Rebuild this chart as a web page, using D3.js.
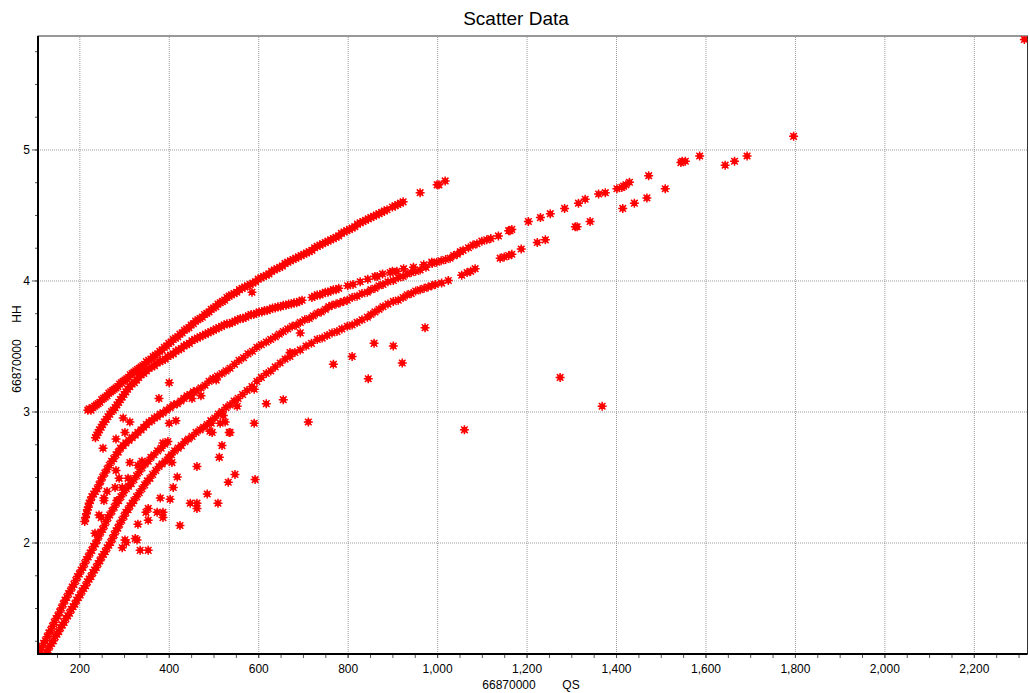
<!DOCTYPE html>
<html>
<head>
<meta charset="utf-8">
<script src="https://cdn.jsdelivr.net/npm/d3@7"></script>
<style>
body { margin: 0; background: #fff; }
svg { display: block; font-family: Arial, "Liberation Sans", sans-serif; }
</style>
</head>
<body>
<div class="chart"></div>
<script>
// values (QS, HH)
const chartTitle = "Scatter Data";
const xLabel = "66870000        QS";
const yLabel = "66870000     HH";
const xDomain = [107.6, 2320];
const yDomain = [1.149, 5.866];
const xTicks = [200, 400, 600, 800, 1000, 1200, 1400, 1600, 1800, 2000, 2200];
const yTicks = [2, 3, 4, 5];

const curveA = [[219,3.01],[222,3.02],[226,3.01],[230,3.03],[234,3.04],[238,3.05],[242,3.06],[246,3.07],[250,3.09],[254,3.10],[258,3.11],[262,3.12],[266,3.14],[270,3.15],[274,3.16],[278,3.17],[282,3.18],[286,3.19],[290,3.21],[294,3.22],[298,3.23],[302,3.24],[306,3.25],[310,3.26],[314,3.28],[318,3.29],[322,3.30],[326,3.31],[330,3.32],[334,3.33],[338,3.34],[342,3.35],[346,3.36],[350,3.38],[355,3.39],[360,3.40],[365,3.42],[370,3.43],[375,3.44],[380,3.46],[385,3.47],[390,3.49],[395,3.50],[400,3.52],[405,3.53],[410,3.55],[415,3.56],[420,3.57],[425,3.59],[430,3.60],[435,3.62],[440,3.63],[445,3.64],[450,3.66],[455,3.67],[460,3.69],[465,3.70],[470,3.71],[475,3.72],[480,3.74],[485,3.75],[490,3.76],[495,3.78],[500,3.79],[505,3.80],[510,3.82],[515,3.83],[520,3.84],[525,3.85],[530,3.87],[535,3.88],[540,3.89],[546,3.90],[552,3.91],[558,3.93],[564,3.94],[570,3.95],[576,3.96],[582,3.97],[588,3.98],[594,3.99],[600,4.01],[606,4.02],[612,4.03],[618,4.04],[624,4.05],[630,4.07],[636,4.08],[642,4.09],[648,4.10],[654,4.11],[660,4.13],[666,4.14],[672,4.15],[678,4.16],[684,4.17],[690,4.18],[696,4.19],[702,4.20],[708,4.21],[714,4.22],[720,4.23],[726,4.25],[732,4.26],[738,4.27],[744,4.28],[750,4.29],[756,4.30],[762,4.31],[768,4.32],[774,4.33],[780,4.34],[786,4.36],[792,4.37],[798,4.38],[804,4.39],[810,4.40],[816,4.41],[822,4.43],[828,4.44],[834,4.45],[840,4.46],[846,4.47],[852,4.48],[858,4.49],[864,4.50],[870,4.51],[876,4.52],[882,4.53],[888,4.54],[900,4.56],[906,4.57],[912,4.58],[918,4.59],[924,4.60],[962,4.67],[1000,4.73],[1004,4.73],[1018,4.76]];

const curveB = [[236,2.80],[239,2.82],[242,2.84],[245,2.86],[249,2.88],[252,2.90],[256,2.92],[260,2.94],[264,2.96],[268,2.98],[272,3.00],[276,3.01],[280,3.03],[284,3.05],[288,3.07],[292,3.09],[296,3.11],[300,3.13],[304,3.15],[308,3.17],[313,3.19],[318,3.21],[323,3.22],[328,3.24],[333,3.26],[338,3.28],[344,3.29],[350,3.31],[356,3.33],[362,3.34],[368,3.35],[374,3.37],[380,3.38],[386,3.39],[392,3.40],[398,3.42],[404,3.43],[410,3.44],[416,3.46],[422,3.47],[428,3.48],[434,3.50],[440,3.51],[446,3.52],[452,3.54],[458,3.55],[464,3.56],[470,3.57],[476,3.58],[482,3.59],[488,3.60],[494,3.61],[500,3.62],[506,3.63],[512,3.64],[518,3.65],[524,3.66],[530,3.67],[536,3.67],[542,3.68],[548,3.69],[554,3.70],[560,3.71],[566,3.71],[572,3.72],[578,3.73],[584,3.74],[590,3.74],[596,3.75],[602,3.76],[608,3.76],[614,3.77],[620,3.77],[626,3.78],[632,3.79],[638,3.79],[644,3.80],[650,3.80],[656,3.81],[662,3.81],[668,3.82],[674,3.82],[680,3.83],[686,3.83],[692,3.84],[698,3.85],[720,3.87],[726,3.88],[732,3.89],[738,3.89],[744,3.90],[750,3.91],[756,3.91],[762,3.92],[768,3.93],[774,3.93],[780,3.94],[800,3.96],[812,3.97],[828,3.99],[845,4.01],[861,4.03],[866,4.03],[878,4.05],[895,4.06],[900,4.07],[910,4.07],[925,4.09],[947,4.10],[970,4.12],[988,4.14]];

const curveC = [[212,2.16],[214,2.19],[216,2.22],[218,2.25],[220,2.27],[222,2.30],[225,2.32],[228,2.35],[232,2.37],[236,2.39],[240,2.41],[244,2.44],[248,2.47],[252,2.50],[257,2.53],[262,2.56],[267,2.59],[272,2.62],[277,2.64],[282,2.67],[287,2.69],[292,2.72],[298,2.74],[304,2.76],[311,2.78],[318,2.80],[325,2.82],[331,2.84],[338,2.86],[344,2.88],[350,2.90],[356,2.92],[362,2.93],[368,2.95],[374,2.96],[381,2.98],[387,2.99],[395,3.01],[403,3.03],[411,3.05],[419,3.06],[427,3.08],[434,3.10],[441,3.12],[448,3.13],[455,3.15],[463,3.16],[472,3.18],[481,3.20],[490,3.23],[499,3.25],[509,3.27],[519,3.29],[528,3.31],[537,3.33],[547,3.36],[557,3.39],[567,3.41],[577,3.44],[587,3.46],[597,3.49],[607,3.51],[618,3.53],[628,3.55],[638,3.57],[647,3.59],[656,3.61],[666,3.63],[676,3.65],[685,3.66],[694,3.68],[704,3.70],[714,3.71],[723,3.73],[732,3.75],[741,3.76],[750,3.78],[758,3.80],[765,3.81],[774,3.82],[783,3.83],[791,3.84],[799,3.85],[810,3.87],[821,3.88],[832,3.90],[844,3.91],[852,3.93],[861,3.94],[870,3.96],[879,3.97],[890,3.99],[902,4.00],[913,4.02],[924,4.03],[933,4.05],[942,4.06],[952,4.07],[962,4.08],[975,4.10],[989,4.13],[999,4.14],[1009,4.15],[1019,4.16],[1029,4.17],[1037,4.19],[1045,4.20],[1052,4.22],[1058,4.23]];

const upperTail = [[1070,4.25],[1080,4.27],[1089,4.28],[1100,4.30],[1111,4.31],[1120,4.32],[1137,4.34],[1160,4.38],[1163,4.38],[1167,4.39],[1204,4.45],[1231,4.48],[1253,4.51],[1285,4.55],[1316,4.59],[1331,4.62],[1361,4.66],[1376,4.67],[1402,4.70],[1413,4.71],[1417,4.72],[1422,4.73],[1430,4.75],[1473,4.80],[1545,4.90],[1548,4.91],[1555,4.91],[1587,4.95]];

const curveD1 = [[110,1.16],[113,1.18],[116,1.20],[120,1.23],[124,1.25],[128,1.28],[132,1.31],[136,1.33],[140,1.36],[144,1.39],[148,1.42],[152,1.44],[156,1.47],[160,1.50],[164,1.53],[168,1.56],[172,1.58],[176,1.61],[180,1.63],[184,1.66],[188,1.68],[192,1.71],[196,1.74],[200,1.76],[204,1.79],[208,1.81],[212,1.84],[216,1.87],[220,1.89],[224,1.92],[228,1.94],[232,1.97],[236,1.99],[240,2.02],[244,2.05],[248,2.08],[252,2.10],[256,2.13],[260,2.16],[264,2.19],[268,2.21],[273,2.24],[278,2.27],[283,2.30],[288,2.32],[293,2.35],[299,2.38],[305,2.41],[310,2.43],[316,2.45],[322,2.48],[328,2.51],[334,2.54],[340,2.57],[347,2.60],[354,2.62],[360,2.65],[367,2.67],[375,2.70],[383,2.72],[391,2.75],[398,2.77]];

const curveD = [[126,1.16],[130,1.18],[134,1.21],[138,1.23],[142,1.25],[146,1.28],[150,1.30],[154,1.32],[158,1.35],[162,1.37],[166,1.39],[170,1.42],[174,1.44],[178,1.46],[182,1.49],[186,1.51],[190,1.53],[194,1.56],[198,1.58],[202,1.60],[206,1.63],[210,1.65],[214,1.67],[218,1.70],[222,1.72],[226,1.74],[230,1.77],[234,1.79],[238,1.81],[242,1.84],[246,1.86],[250,1.89],[254,1.91],[258,1.93],[262,1.96],[266,1.98],[270,2.00],[274,2.03],[278,2.06],[282,2.09],[286,2.11],[290,2.14],[295,2.17],[300,2.20],[304,2.23],[309,2.25],[313,2.28],[318,2.30],[322,2.32],[328,2.35],[334,2.38],[340,2.41],[346,2.44],[352,2.47],[358,2.49],[364,2.52],[371,2.55],[378,2.58],[385,2.60],[392,2.62],[399,2.65],[406,2.67],[413,2.70],[421,2.72],[428,2.74],[436,2.77],[444,2.79],[452,2.81],[461,2.84],[470,2.86],[478,2.88],[486,2.90],[494,2.93],[503,2.95],[511,2.98],[519,3.00],[528,3.03],[537,3.05],[546,3.08],[555,3.10],[565,3.13],[575,3.16],[586,3.19],[597,3.23],[607,3.26],[618,3.29],[628,3.31],[638,3.34],[649,3.37],[660,3.40],[671,3.42],[682,3.45],[694,3.47],[707,3.50],[719,3.52],[732,3.55],[743,3.56],[754,3.58],[765,3.60],[776,3.61],[787,3.63],[799,3.65],[810,3.66],[821,3.68],[832,3.70],[844,3.72],[852,3.74],[861,3.76],[870,3.78],[879,3.80],[890,3.82],[902,3.84],[913,3.85],[924,3.87],[933,3.89],[942,3.90],[952,3.92],[962,3.93],[971,3.94],[980,3.95],[988,3.96],[996,3.97],[1010,3.98],[1025,4.00]];

const lowerTail = [[1055,4.04],[1067,4.06],[1075,4.07],[1085,4.09],[1141,4.17],[1150,4.18],[1160,4.19],[1167,4.20],[1188,4.24],[1224,4.29],[1242,4.31],[1309,4.41],[1313,4.41],[1342,4.45],[1415,4.55],[1441,4.59],[1469,4.63],[1510,4.70]];

const farPoints = [[1644,4.88],[1665,4.91],[1693,4.95],[1797,5.10],[2313,5.84]];

const outliers = [[378,3.10],[452,3.10],[472,3.12],[401,3.22],[506,3.24],[618,3.06],[298,2.95],[313,2.92],[401,2.91],[416,2.93],[302,2.84],[282,2.79],[253,2.72],[313,2.61],[340,2.62],[331,2.59],[282,2.55],[309,2.49],[289,2.49],[262,2.39],[255,2.34],[280,2.42],[296,2.42],[244,2.21],[235,2.07],[387,2.76],[407,2.61],[419,2.50],[410,2.42],[381,2.34],[354,2.26],[374,2.23],[387,2.23],[354,2.17],[331,2.14],[302,2.02],[325,2.03],[296,1.96],[336,1.94],[354,1.94],[425,2.13],[463,2.58],[448,2.30],[463,2.30],[463,2.26],[486,2.37],[510,2.30],[513,2.65],[533,2.46],[548,2.52],[593,2.48],[519,2.74],[535,2.84],[497,2.84],[495,2.91],[515,2.91],[526,2.92],[522,2.97],[553,3.04],[591,2.91],[586,3.91],[671,3.45],[694,3.60],[859,3.52],[902,3.50],[810,3.42],[768,3.36],[846,3.25],[591,3.17],[656,3.09],[712,2.92],[499,3.25],[922,3.37],[973,3.64],[1061,2.86],[1275,3.26],[1369,3.04],[249,2.19],[255,2.32],[284,2.32],[349,2.23],[387,2.19],[305,2.00],[329,2.02],[403,2.33],[492,2.85],[537,2.84]];

const width = 1029;
const height = 693;
const plot = { left: 38, top: 36, right: 1027.5, bottom: 654 };

const svg = d3.select("div.chart")
    .append("svg")
    .attr("width", width)
    .attr("height", height);

const x = d3.scaleLinear().domain(xDomain).range([plot.left, plot.right]);
const y = d3.scaleLinear().domain(yDomain).range([plot.bottom, plot.top]);

// grid
const gx = svg.append("g")
    .attr("transform", `translate(0,${plot.bottom})`)
    .call(d3.axisBottom(x).tickValues(xTicks).tickSize(-(plot.bottom - plot.top)).tickFormat(""));
const gy = svg.append("g")
    .attr("transform", `translate(${plot.left},0)`)
    .call(d3.axisLeft(y).tickValues(yTicks).tickSize(-(plot.right - plot.left)).tickFormat(""));
[gx, gy].forEach(g => {
    g.select(".domain").remove();
    g.selectAll("line").attr("stroke", "#9a9a9a").attr("stroke-dasharray", "1,1");
});

// frame
svg.append("rect")
    .attr("x", plot.left).attr("y", plot.top)
    .attr("width", plot.right - plot.left).attr("height", plot.bottom - plot.top)
    .attr("fill", "none").attr("stroke", "#333").attr("stroke-width", 1);

svg.append("clipPath").attr("id", "clip")
    .append("rect")
    .attr("x", plot.left).attr("y", plot.top)
    .attr("width", plot.right - plot.left).attr("height", plot.bottom - plot.top);

// points
const all = [].concat(curveA, curveB, curveC, upperTail, curveD1, curveD, lowerTail, farPoints, outliers);
const star = "M-4.5,0H4.5M0,-4.5V4.5M-3.3,-3.3L3.3,3.3M-3.3,3.3L3.3,-3.3M-2,-2h4v4h-4z";

svg.append("g")
    .attr("clip-path", "url(#clip)")
    .selectAll("path")
    .data(all)
    .enter()
    .append("path")
    .attr("transform", d => `translate(${x(d[0])},${y(d[1])})`)
    .attr("d", star)
    .attr("fill", "#ff0000")
    .attr("stroke", "#ff0000")
    .attr("stroke-width", 1.5);

// axes
const minorX = d3.range(150, 2320, 50);
const minorY = d3.range(1.25, 5.87, 0.25);

const ax = svg.append("g").attr("transform", `translate(0,${plot.bottom})`);
ax.call(d3.axisBottom(x).tickValues(minorX).tickSize(4).tickFormat(""));
ax.select(".domain").remove();
const axLab = svg.append("g").attr("transform", `translate(0,${plot.bottom})`)
    .call(d3.axisBottom(x).tickValues(xTicks).tickSize(4).tickPadding(6).tickFormat(d3.format(",")));
axLab.select(".domain").remove();

const ay = svg.append("g").attr("transform", `translate(${plot.left},0)`);
ay.call(d3.axisLeft(y).tickValues(minorY).tickSize(3).tickFormat(""));
ay.select(".domain").remove();
const ayLab = svg.append("g").attr("transform", `translate(${plot.left},0)`)
    .call(d3.axisLeft(y).tickValues(yTicks).tickSize(6).tickPadding(2).tickFormat(d3.format("d")));
ayLab.select(".domain").remove();

svg.selectAll(".tick text").attr("font-size", 12).attr("font-family", "Arial, 'Liberation Sans', sans-serif").attr("fill", "#000");
svg.selectAll(".tick line").filter(function () { return !this.getAttribute("stroke-dasharray"); }).attr("stroke", "#555");

svg.append("line")
    .attr("x1", plot.left).attr("x2", plot.left)
    .attr("y1", plot.top).attr("y2", plot.bottom + 1)
    .attr("stroke", "#000").attr("stroke-width", 2);
svg.append("line")
    .attr("x1", plot.left - 1).attr("x2", plot.right)
    .attr("y1", plot.bottom).attr("y2", plot.bottom)
    .attr("stroke", "#000").attr("stroke-width", 2);

// titles
svg.append("text")
    .attr("x", 516).attr("y", 25)
    .attr("text-anchor", "middle")
    .attr("font-size", 19)
    .text(chartTitle);

svg.append("text")
    .attr("x", 531).attr("y", 689)
    .attr("text-anchor", "middle")
    .attr("font-size", 12)
    .style("white-space", "pre")
    .text(xLabel);

svg.append("text")
    .attr("transform", "translate(21,349) rotate(-90)")
    .attr("text-anchor", "middle")
    .attr("font-size", 12)
    .style("white-space", "pre")
    .text(yLabel);
</script>
</body>
</html>
